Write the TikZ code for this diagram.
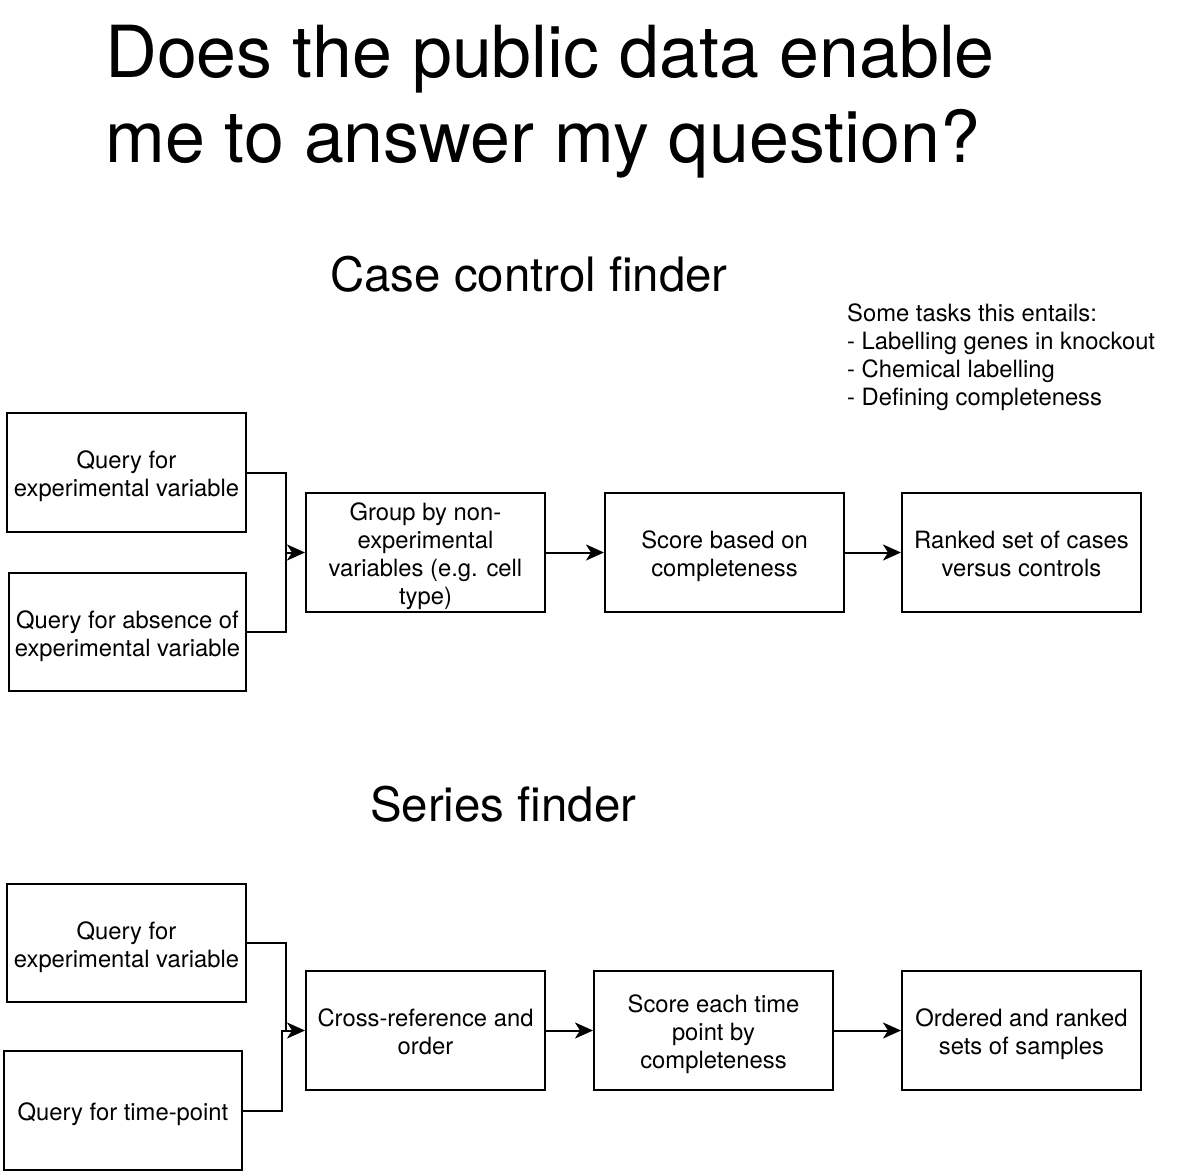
\documentclass[tikz,border=0pt]{standalone}
\usepackage{fontspec}
\setmainfont{TeX Gyre Heros}
\usetikzlibrary{arrows.meta}
\begin{document}
\begin{tikzpicture}[x=1pt,y=1pt,
  box/.style={draw, line width=2pt, minimum width=239pt, minimum height=119pt, inner sep=0pt},
  boxtext/.style={align=center, inner sep=0pt, yshift=-4pt, font=\fontsize{23.8}{28}\selectfont, execute at end node={\vphantom{y}}},
  link/.style={draw, line width=2pt},
  arr/.style={link, -{Stealth[length=18pt,width=16pt,inset=5pt]}},
  bigtitle/.style={anchor=base west, inner sep=0pt, font=\fontsize{71.8}{85}\selectfont},
  subtitle/.style={anchor=base west, inner sep=0pt, font=\fontsize{47.4}{56}\selectfont},
  note/.style={anchor=base west, inner sep=0pt, font=\fontsize{23.8}{28}\selectfont}]
\path[use as bounding box] (0,0) rectangle (1184,-1175);

\node[bigtitle] (t1) at (105,-77) {Does the public data enable};
\node[bigtitle] (t2) at (105,-162) {me to answer my question?};
\node[subtitle] (s1) at (330,-291) {Case control finder};
\node[subtitle] (s2) at (370,-821) {Series finder};

\node[note] (n1) at (847,-321) {Some tasks this entails:};
\node[note] (n2) at (847,-349) {- Labelling genes in knockout};
\node[note] (n3) at (847,-377) {- Chemical labelling};
\node[note] (n4) at (847,-405) {- Defining completeness};

% top
\node[box, label={[boxtext]center:{Query for\\experimental variable}}] (A1) at (126.5,-472.5) {};
\node[box, minimum width=237pt, minimum height=118pt, label={[boxtext]center:{Query for absence of\\experimental variable}}] (A2) at (127.5,-632) {};
\node[box, label={[boxtext]center:{Group by non-\\experimental\\variables (e.g. cell\\type)}}] (B) at (425.5,-552.5) {};
\node[box, label={[boxtext]center:{Score based on\\completeness}}] (C) at (724.5,-552.5) {};
\node[box, label={[boxtext]center:{Ranked set of cases\\versus controls}}] (D) at (1021.5,-552.5) {};
\coordinate (J1) at (286,-552.5);
\draw[link] (A1.east) -| (J1);
\draw[link] (A2.east) -| (J1);
\draw[arr] (J1) -- (B.west);
\draw[arr] (B) -- (C);
\draw[arr] (C) -- (D);

% bottom
\node[box, minimum height=118pt, label={[boxtext]center:{Query for\\experimental variable}}] (E1) at (126.5,-943) {};
\node[box, minimum width=238pt, label={[boxtext]center:{Query for time-point}}] (E2) at (123,-1110.5) {};
\node[box, label={[boxtext]center:{Cross-reference and\\order}}] (F) at (425.5,-1030.5) {};
\node[box, label={[boxtext]center:{Score each time\\point by\\completeness}}] (G) at (713.5,-1030.5) {};
\node[box, label={[boxtext]center:{Ordered and ranked\\sets of samples}}] (H) at (1021.5,-1030.5) {};
\coordinate (J2) at (286,-1030.5);
\coordinate (J3) at (282,-1030.5);
\draw[link] (E1.east) -| (J2);
\draw[arr] (E2.east) -| (J3) -- (F.west);
\draw[arr] (F) -- (G);
\draw[arr] (G) -- (H);
\end{tikzpicture}
\end{document}
